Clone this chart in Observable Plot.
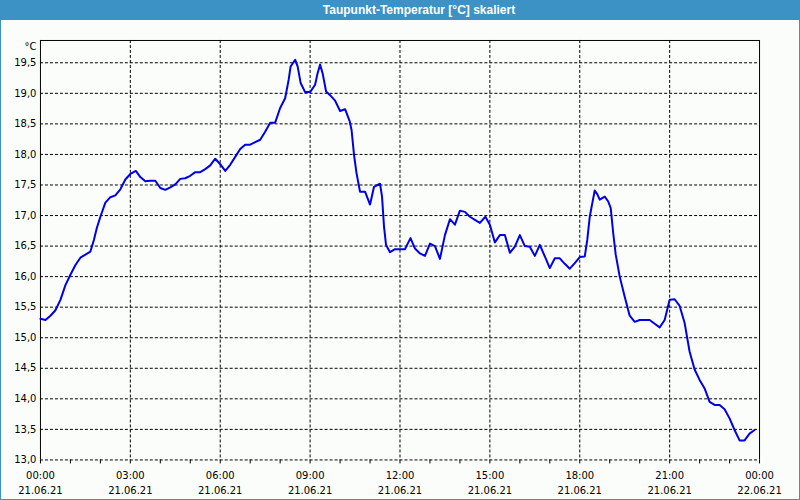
<!DOCTYPE html>
<html>
<head>
<meta charset="utf-8">
<script src="https://cdn.jsdelivr.net/npm/d3@7"></script>
<script src="https://cdn.jsdelivr.net/npm/@observablehq/plot@0.6"></script>
<style>
  html, body { margin: 0; padding: 0; background: #fbfdfb; }
  #win { position: relative; width: 800px; height: 500px; box-sizing: border-box;
         border-left: 1px solid #3c91c5; border-right: 1px solid #3c91c5; border-bottom: 1px solid #3c91c5;
         background: #fbfdfb; overflow: hidden; }
  #title { position: absolute; left: -1px; top: 0; width: 800px; height: 20px; background: #3c91c5;
           color: #fff; font: bold 12px "Liberation Sans", sans-serif; line-height: 20px;
           text-align: center; box-sizing: border-box; padding-left: 38px; }
  #chart { position: absolute; left: -1px; top: 20px; }
</style>
</head>
<body>
<div id="win">
  <div id="title">Taupunkt-Temperatur [°C] skaliert</div>
  <div id="chart"></div>
</div>
<script>
// minutes since 21.06.21 00:00
const minutes = [
  0,10,20,30,40,50,60,70,80,90,100,107,113,120,130,140,150,160,170,180,191,200,210,220,230,240,250,260,270,280,290,300,310,320,330,340,350,360,
  370,380,390,400,410,420,430,440,450,460,470,480,490,497,501,510,515,521,530,540,550,555,560,565,572,580,590,600,610,619,623,628,633,640,650,660,668,680,684,688,692,700,710,720,
  730,741,750,760,770,780,790,800,810,820,830,840,850,860,870,880,891,900,910,920,930,940,950,960,970,980,990,1000,1010,1020,1030,1040,1050,1060,1070,1080,
  1090,1095,1100,1105,1110,1115,1120,1130,1137,1142,1147,1152,1160,1170,1180,1190,1200,1210,1220,1230,1240,1250,1260,1270,1280,1290,1300,1310,1320,1330,1340,1350,1360,1370,1380,1390,1400,1410,1420,1430
];
const dewpoint = [
  15.31,15.29,15.36,15.45,15.62,15.86,16.03,16.19,16.31,16.36,16.41,16.60,16.80,16.98,17.21,17.30,17.33,17.43,17.59,17.68,17.73,17.63,17.56,17.57,17.57,17.45,17.42,17.46,17.51,17.60,17.61,17.65,17.71,17.71,17.76,17.82,17.93,17.84,
  17.73,17.83,17.96,18.09,18.16,18.16,18.20,18.24,18.37,18.52,18.52,18.76,18.92,19.22,19.44,19.55,19.44,19.17,19.02,19.02,19.14,19.33,19.47,19.33,19.03,18.97,18.88,18.71,18.74,18.55,18.40,17.99,17.69,17.39,17.39,17.18,17.47,17.52,17.31,16.82,16.52,16.40,16.45,16.45,
  16.45,16.63,16.46,16.38,16.34,16.54,16.50,16.29,16.68,16.94,16.85,17.08,17.06,16.98,16.93,16.88,16.98,16.85,16.56,16.68,16.68,16.39,16.49,16.68,16.50,16.49,16.34,16.52,16.33,16.14,16.30,16.30,16.21,16.13,16.22,16.32,
  16.33,16.60,16.98,17.20,17.41,17.35,17.26,17.31,17.23,17.12,16.71,16.36,16.00,15.67,15.36,15.26,15.29,15.29,15.29,15.23,15.17,15.29,15.62,15.63,15.52,15.24,14.77,14.48,14.31,14.17,13.95,13.90,13.90,13.83,13.68,13.49,13.32,13.32,13.43,13.49
];
const yTicks = [13.0,13.5,14.0,14.5,15.0,15.5,16.0,16.5,17.0,17.5,18.0,18.5,19.0,19.5];
const yDomain = [13.0, 19.865];
const majorHours = [0,3,6,9,12,15,18,21,24];
const minorHours = d3.range(0, 25);
const unit = "°C";

const t0 = Date.UTC(2021, 5, 21);
const toDate = m => new Date(t0 + m * 60000);
const data = minutes.map((m, i) => ({t: toDate(m), v: dewpoint[i]}));
const majorDates = majorHours.map(h => toDate(h * 60));
const innerMajor = majorDates.slice(1, -1);
const minorDates = minorHours.map(h => toDate(h * 60));
const xDomain = [majorDates[0], majorDates[majorDates.length - 1]];
const pad = n => String(n).padStart(2, "0");
const fmtTime = d => pad(d.getUTCHours()) + ":" + pad(d.getUTCMinutes());
const fmtDate = d => pad(d.getUTCDate()) + "." + pad(d.getUTCMonth() + 1) + "." + pad(d.getUTCFullYear() % 100);

const chart = Plot.plot({
  width: 800,
  height: 480,
  marginLeft: 40,
  marginRight: 40,
  marginTop: 20,
  marginBottom: 40,
  style: { background: "transparent", fontFamily: "DejaVu Sans", fontSize: "10px", color: "#000" },
  x: { type: "utc", domain: xDomain },
  y: { domain: yDomain },
  marks: [
    Plot.ruleY(yTicks, { stroke: "#000", strokeOpacity: 1, strokeWidth: 1, strokeDasharray: "3,2" }),
    Plot.ruleX(innerMajor, { stroke: "#000", strokeOpacity: 1, strokeWidth: 1, strokeDasharray: "3,2" }),
    Plot.ruleY([yDomain[1]], { stroke: "#000", strokeWidth: 1 }),
    Plot.ruleX([xDomain[0], xDomain[1]], { stroke: "#000", strokeWidth: 1 }),
    Plot.axisY({ ticks: yTicks, tickSize: 0, tickPadding: 4, tickFormat: d => d.toFixed(1).replace(".", ","), label: null }),
    Plot.axisX({ ticks: minorDates, tickSize: 4, tickFormat: () => "", label: null }),
    Plot.text(majorDates, { x: d => d, text: fmtTime, frameAnchor: "bottom", lineAnchor: "bottom", dy: 19, fill: "#000" }),
    Plot.text(majorDates, { x: d => d, text: fmtDate, frameAnchor: "bottom", lineAnchor: "bottom", dy: 34.5, fill: "#000" }),
    Plot.text([unit], { text: d => d, frameAnchor: "top-left", textAnchor: "end", lineAnchor: "middle", dx: -4, dy: 6, fill: "#000" }),
    Plot.line(data, { x: "t", y: "v", stroke: "#0000e6", strokeWidth: 2, strokeLinejoin: "round" })
  ]
});
document.getElementById("chart").appendChild(chart);
</script>
</body>
</html>
